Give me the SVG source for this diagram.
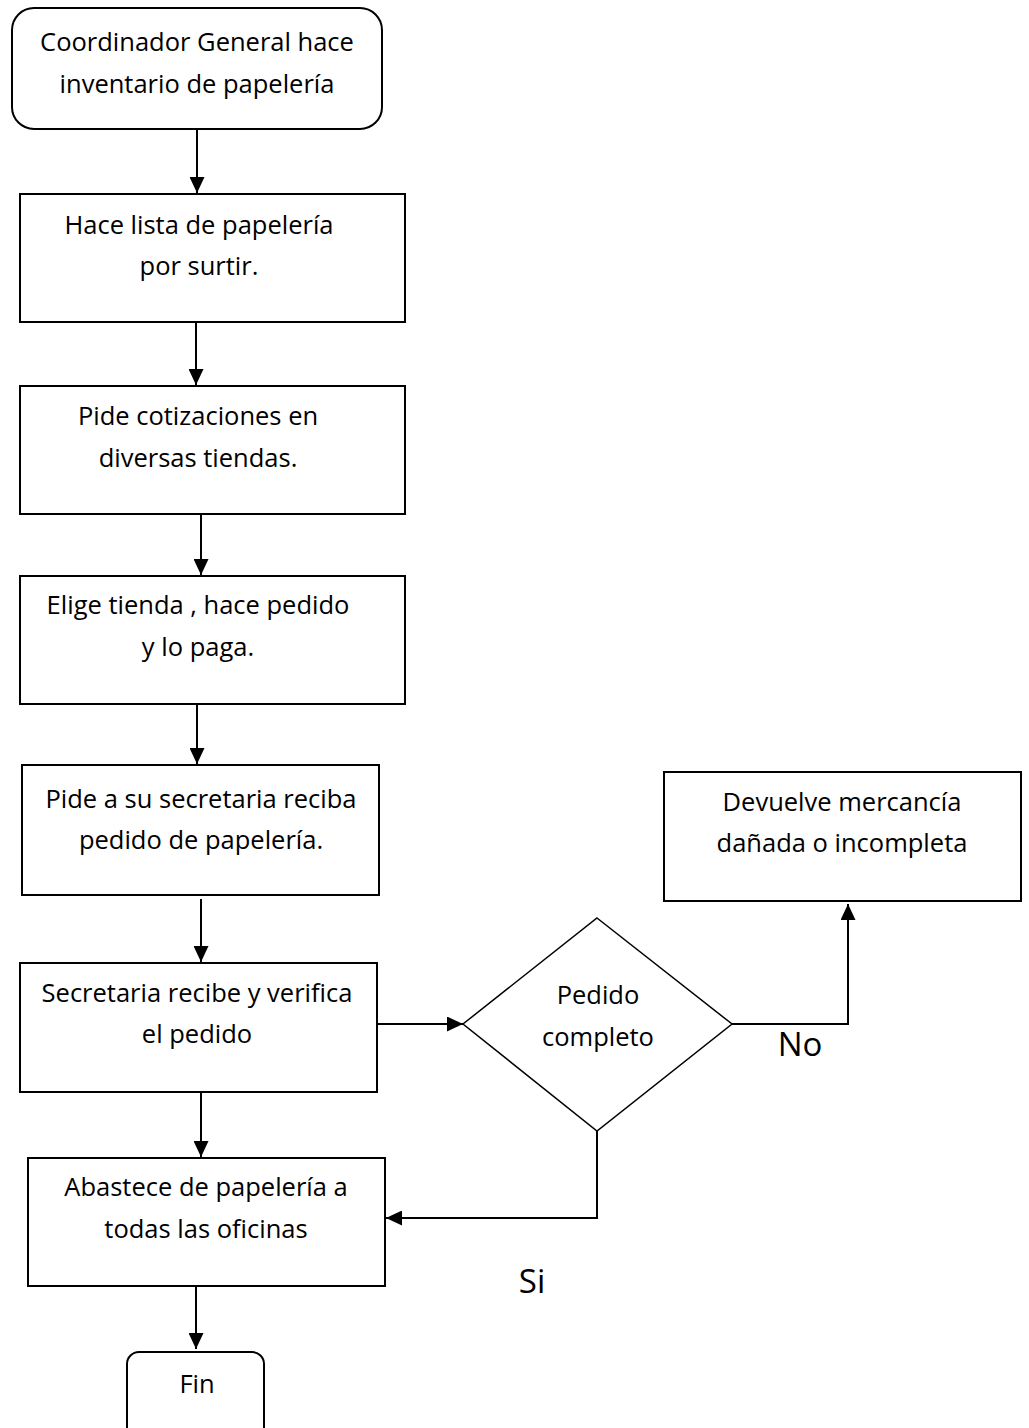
<svg xmlns="http://www.w3.org/2000/svg" width="1029" height="1428" viewBox="0 0 1029 1428">
  <defs>
    <marker id="arrow" viewBox="0 0 16 15" refX="16" refY="7.5" markerWidth="16" markerHeight="15" markerUnits="userSpaceOnUse" orient="auto">
      <path d="M0,0 L16,7.5 L0,15 Z" fill="#000"/>
    </marker>
  </defs>
  <style>
    .box { fill: #fff; stroke: #000; stroke-width: 2; }
    .dia { fill: #fff; stroke: #000; stroke-width: 1.5; }
    .lbl { font-family: "Open Sans", "Noto Sans", "Liberation Sans", sans-serif; font-size: 25.5px; fill: #000; text-anchor: middle; font-variant-ligatures: none; }
    .big { font-size: 33px; }
    .conn { fill: none; stroke: #000; stroke-width: 2; }
  </style>
  <rect width="1029" height="1428" fill="#fff"/>

  <g id="connectors">
    <path class="conn" d="M197,129 V193" marker-end="url(#arrow)"/>
    <path class="conn" d="M196,322 V385" marker-end="url(#arrow)"/>
    <path class="conn" d="M201,514 V575" marker-end="url(#arrow)"/>
    <path class="conn" d="M197,704 V764" marker-end="url(#arrow)"/>
    <path class="conn" d="M201,899 V962" marker-end="url(#arrow)"/>
    <path class="conn" d="M201,1093 V1157" marker-end="url(#arrow)"/>
    <path class="conn" d="M196,1286 V1349" marker-end="url(#arrow)"/>
    <path class="conn" d="M376,1024 H463" marker-end="url(#arrow)"/>
    <path class="conn" d="M732,1024 H848 V904" marker-end="url(#arrow)"/>
    <path class="conn" d="M597,1131 V1218 H386" marker-end="url(#arrow)"/>
  </g>

  <g id="n1">
    <rect class="box" x="12" y="8" width="370" height="121" rx="22"/>
    <text class="lbl" x="197" y="51">Coordinador General hace</text>
    <text class="lbl" x="197" y="93">inventario de papelería</text>
  </g>
  <g id="n2">
    <rect class="box" x="20" y="194" width="385" height="128"/>
    <text class="lbl" x="199" y="234">Hace lista de papelería</text>
    <text class="lbl" x="199" y="275">por surtir.</text>
  </g>
  <g id="n3">
    <rect class="box" x="20" y="386" width="385" height="128"/>
    <text class="lbl" x="198" y="425">Pide cotizaciones en</text>
    <text class="lbl" x="198" y="467">diversas tiendas.</text>
  </g>
  <g id="n4">
    <rect class="box" x="20" y="576" width="385" height="128"/>
    <text class="lbl" x="198" y="614">Elige tienda , hace pedido</text>
    <text class="lbl" x="198" y="656">y lo paga.</text>
  </g>
  <g id="n5">
    <rect class="box" x="22" y="765" width="357" height="130"/>
    <text class="lbl" x="201" y="808">Pide a su secretaria reciba</text>
    <text class="lbl" x="201" y="849">pedido de papelería.</text>
  </g>
  <g id="n6">
    <rect class="box" x="20" y="963" width="357" height="129"/>
    <text class="lbl" x="197" y="1002">Secretaria recibe y verifica</text>
    <text class="lbl" x="197" y="1043">el pedido</text>
  </g>
  <g id="n7">
    <rect class="box" x="28" y="1158" width="357" height="128"/>
    <text class="lbl" x="206" y="1196">Abastece de papelería a</text>
    <text class="lbl" x="206" y="1238">todas las oficinas</text>
  </g>
  <g id="fin">
    <rect class="box" x="127" y="1352" width="137" height="100" rx="12"/>
    <text class="lbl" x="197" y="1393">Fin</text>
  </g>
  <g id="decision">
    <polygon class="dia" points="597,918 732,1024 597,1131 463,1024"/>
    <text class="lbl" x="598" y="1004">Pedido</text>
    <text class="lbl" x="598" y="1046">completo</text>
  </g>
  <g id="devuelve">
    <rect class="box" x="664" y="772" width="357" height="129"/>
    <text class="lbl" x="842" y="811">Devuelve mercancía</text>
    <text class="lbl" x="842" y="852">dañada o incompleta</text>
  </g>
  <g id="labels">
    <text class="lbl big" x="800" y="1056">No</text>
    <text class="lbl big" x="532" y="1293">Si</text>
  </g>
</svg>
